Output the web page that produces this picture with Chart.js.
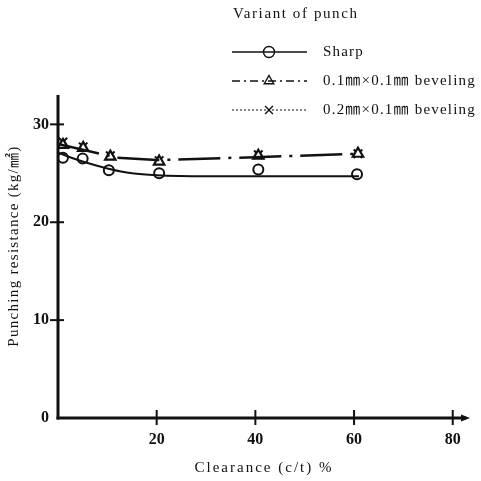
<!DOCTYPE html>
<html>
<head>
<meta charset="utf-8">
<script src="https://cdn.jsdelivr.net/npm/chart.js@4.4.1/dist/chart.umd.min.js"></script>
<style>
  html, body { margin: 0; padding: 0; background: #fff; }
  #wrap { width: 481px; height: 481px; position: relative; }
</style>
</head>
<body>
<div id="wrap"><canvas id="chart"></canvas></div>
<script>
// measured points, clearance (c/t %) vs punching resistance (kg/mm2)
const sharpX = [1, 5, 10.3, 20.5, 40.6, 60.6];
const sharpY = [26.6, 26.5, 25.3, 25.0, 25.4, 24.9];
const bevel1X = [1, 5.1, 10.6, 20.5, 40.6, 60.8];
const bevel1Y = [27.9, 27.6, 26.7, 26.2, 26.8, 27.0];
const bevel2X = [1, 5.1, 10.6, 20.5, 40.6, 60.8];
const bevel2Y = [28.2, 27.7, 26.8, 26.3, 26.9, 27.0];

// fitted curves
const sharpFitX = [0, 5, 10, 15, 20, 30, 61];
const sharpFitY = [27.1, 26.2, 25.5, 25.0, 24.8, 24.7, 24.7];
const bevelFitX = [0, 12, 20, 40, 61];
const bevelFitY = [28.0, 26.6, 26.35, 26.65, 27.0];

const xTicks = [20, 40, 60, 80];
const yTicks = [0, 10, 20, 30];

const legendTitle = "Variant of punch";
const legendLabels = ["Sharp", "0.1㎜×0.1㎜ beveling", "0.2㎜×0.1㎜ beveling"];
const xTitle = "Clearance (c/t) %";
const yTitle = "Punching resistance (kg/㎟)";

const FONT = '"Liberation Serif", "Noto Sans CJK SC", serif';
const INK = "#111";

const pts = (xs, ys) => xs.map((x, i) => ({ x, y: ys[i] }));

const legendStyles = [
  { dash: [], width: 1.3, pointStyle: "circle" },
  { dash: [8, 4, 2, 4], width: 1.3, pointStyle: "triangle" },
  { dash: [2, 2], width: 1, pointStyle: "crossRot" },
];

const axesPlugin = {
  id: "axes",
  afterDraw(chart) {
    const { ctx, chartArea: a, scales } = chart;
    const xs = scales.x, ys = scales.y;
    ctx.save();
    ctx.strokeStyle = INK;
    ctx.fillStyle = INK;
    ctx.lineCap = "butt";

    // axis lines
    ctx.lineWidth = 3;
    ctx.beginPath();
    ctx.moveTo(a.left, a.top);
    ctx.lineTo(a.left, a.bottom + 1.5);
    ctx.stroke();
    ctx.beginPath();
    ctx.moveTo(a.left - 1.5, a.bottom);
    ctx.lineTo(a.right - 4, a.bottom);
    ctx.stroke();

    // arrow head on x axis
    ctx.beginPath();
    ctx.moveTo(a.right, a.bottom);
    ctx.lineTo(a.right - 9, a.bottom - 3.5);
    ctx.lineTo(a.right - 9, a.bottom + 3.5);
    ctx.closePath();
    ctx.fill();

    // tick marks crossing the axes
    ctx.lineWidth = 2;
    yTicks.forEach((v) => {
      if (v === 0) return;
      const y = ys.getPixelForValue(v);
      ctx.beginPath();
      ctx.moveTo(a.left - 8, y);
      ctx.lineTo(a.left + 6, y);
      ctx.stroke();
    });
    xTicks.forEach((v) => {
      const x = xs.getPixelForValue(v);
      ctx.beginPath();
      ctx.moveTo(x, a.bottom - 8);
      ctx.lineTo(x, a.bottom + 7);
      ctx.stroke();
    });

    // axis titles
    ctx.font = "15px " + FONT;
    ctx.letterSpacing = "2px";
    ctx.textAlign = "center";
    ctx.textBaseline = "middle";
    ctx.fillText(xTitle, (a.left + a.right) / 2, 468);
    ctx.save();
    ctx.translate(14, 246);
    ctx.rotate(-Math.PI / 2);
    ctx.letterSpacing = "1.3px";
    ctx.fillText(yTitle, 0, 0);
    ctx.restore();
    ctx.restore();
  },
};

const legendPlugin = {
  id: "punchLegend",
  afterDraw(chart) {
    const { ctx } = chart;
    ctx.save();
    ctx.fillStyle = INK;
    ctx.strokeStyle = INK;
    ctx.font = "15px " + FONT;
    ctx.letterSpacing = "1.6px";
    ctx.textAlign = "left";
    ctx.textBaseline = "middle";
    ctx.fillText(legendTitle, 233, 14);

    const rows = [52, 81, 110];
    rows.forEach((y, i) => {
      const st = legendStyles[i];
      ctx.lineWidth = st.width;
      ctx.setLineDash(st.dash);
      ctx.beginPath();
      ctx.moveTo(232, y);
      ctx.lineTo(307, y);
      ctx.stroke();
      ctx.setLineDash([]);
      ctx.lineWidth = 1.4;
      ctx.fillStyle = "rgba(0,0,0,0)";
      Chart.helpers.drawPoint(ctx, { pointStyle: st.pointStyle, radius: 5.5, rotation: 0, borderWidth: 1.4 }, 269, y);
      ctx.fillStyle = INK;
      ctx.font = "15px " + FONT;
      ctx.letterSpacing = i === 0 ? "1.2px" : "1.2px";
      ctx.fillText(legendLabels[i], 323, y);
    });
    ctx.restore();
  },
};

new Chart(document.getElementById("chart"), {
  type: "scatter",
  data: {
    datasets: [
      {
        data: pts(sharpFitX, sharpFitY),
        showLine: true,
        borderColor: INK,
        borderWidth: 2,
        pointRadius: 0,
        cubicInterpolationMode: "monotone",
      },
      {
        data: pts(bevelFitX, bevelFitY),
        showLine: true,
        borderColor: INK,
        borderWidth: 2.5,
        borderDash: [42, 8, 3, 8],
        pointRadius: 0,
        tension: 0,
      },
      {
        label: legendLabels[0],
        data: pts(sharpX, sharpY),
        showLine: false,
        pointStyle: "circle",
        pointRadius: 5,
        pointBorderWidth: 2,
        pointBorderColor: INK,
        pointBackgroundColor: "#fff",
      },
      {
        label: legendLabels[1],
        data: pts(bevel1X, bevel1Y),
        showLine: false,
        pointStyle: "triangle",
        pointRadius: 6,
        pointBorderWidth: 2.2,
        pointBorderColor: INK,
        pointBackgroundColor: "#fff",
      },
      {
        label: legendLabels[2],
        data: pts(bevel2X, bevel2Y),
        showLine: false,
        pointStyle: "crossRot",
        pointRadius: 6,
        pointBorderWidth: 2,
        pointBorderColor: INK,
      },
    ],
  },
  options: {
    responsive: true,
    maintainAspectRatio: false,
    animation: false,
    layout: { padding: { top: 95, right: 11, left: 0, bottom: 0 } },
    plugins: { legend: { display: false }, tooltip: { enabled: false } },
    scales: {
      x: {
        type: "linear",
        min: 0,
        max: 83.5,
        grid: { display: false },
        border: { display: false },
        afterBuildTicks: (s) => { s.ticks = xTicks.map((v) => ({ value: v })); },
        afterFit: (s) => { s.height = 63; },
        ticks: {
          color: INK,
          padding: 4,
          maxRotation: 0,
          font: { family: FONT, size: 16, weight: "bold" },
        },
      },
      y: {
        min: 0,
        max: 33,
        grid: { display: false },
        border: { display: false },
        afterBuildTicks: (s) => { s.ticks = yTicks.map((v) => ({ value: v })); },
        afterFit: (s) => { s.width = 58; },
        ticks: {
          color: INK,
          padding: 1,
          font: { family: FONT, size: 16, weight: "bold" },
        },
      },
    },
  },
  plugins: [axesPlugin, legendPlugin],
});
</script>
</body>
</html>
